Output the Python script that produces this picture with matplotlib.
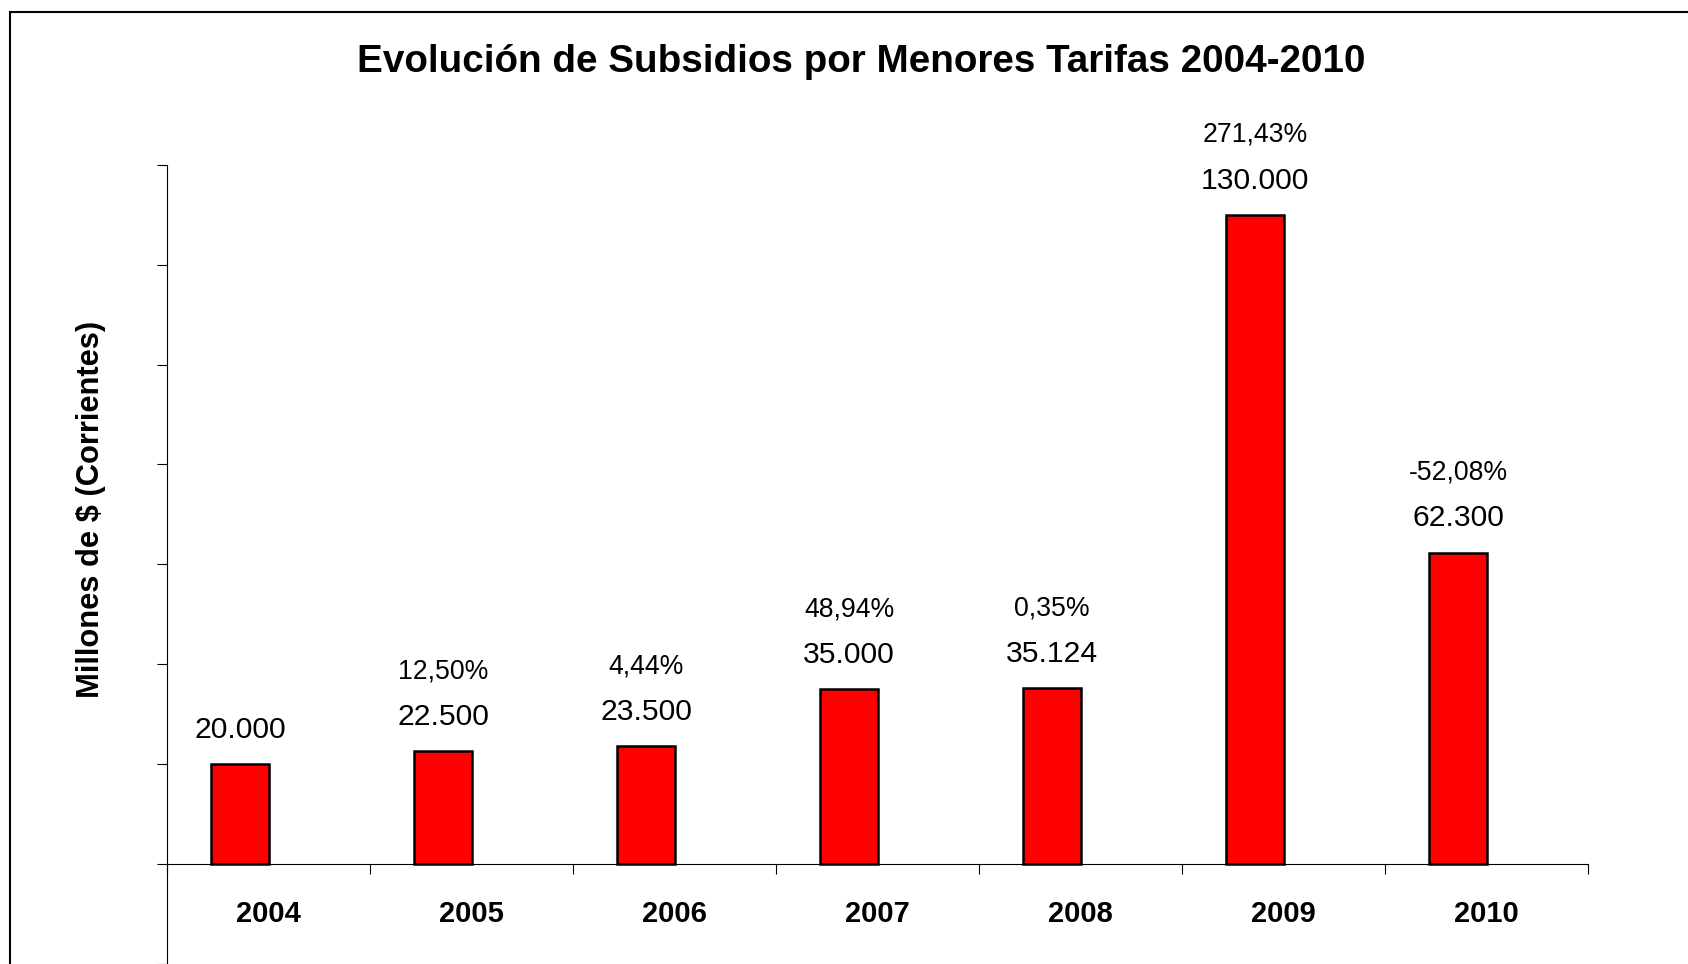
import numpy as np
import matplotlib
matplotlib.use("Agg")
import matplotlib.pyplot as plt
import matplotlib.patches as patches

plt.rcParams['font.family'] = ['Liberation Sans', 'DejaVu Sans']

# datos
anios = ['2004', '2005', '2006', '2007', '2008', '2009', '2010']
subsidios = [20000, 22500, 23500, 35000, 35124, 130000, 62300]
variacion = [None, 12.50, 4.44, 48.94, 0.35, 271.43, -52.08]

W, H = 1688, 964
fig = plt.figure(figsize=(W / 100, H / 100), dpi=100)
ax = fig.add_axes([167 / W, 0.4 / H, (1588 - 167) / W, (963.6 - 165) / H])

x = np.arange(len(anios))
ancho = 0.286
ax.bar(x + 0.5 - 0.14, subsidios, width=ancho, color='#ff0000',
       edgecolor='black', linewidth=1.8, zorder=3)

for i, v in enumerate(subsidios):
    xc = i + 0.5 - 0.14
    txt = f"{v:,}".replace(',', '.')
    ax.annotate(txt, (xc, v), xytext=(0, 19), textcoords='offset points',
                ha='center', va='baseline', fontsize=21.7)
    if variacion[i] is not None:
        p = f"{variacion[i]:.2f}%".replace('.', ',')
        ax.annotate(p, (xc, v), xytext=(0, 52.5), textcoords='offset points',
                    ha='center', va='baseline', fontsize=19.2)

# etiquetas de los anios debajo del eje
for i, a in enumerate(anios):
    ax.annotate(a, (i + 0.5, 0), xytext=(0, -26), textcoords='offset points',
                ha='center', va='top', fontsize=21, fontweight='bold')

ax.set_xlim(0, len(anios))
ax.set_ylim(-20000, 140000)
ax.set_yticks(np.arange(-20000, 140001, 20000))
ax.set_yticklabels([])
ax.set_xticks(np.arange(len(anios) + 1))
ax.set_xticklabels([])
ax.tick_params(axis='both', which='major', direction='out', length=7.2, width=0.8)

ax.spines['bottom'].set_position(('data', 0))
ax.spines['top'].set_visible(False)
ax.spines['right'].set_visible(False)
ax.spines['left'].set_linewidth(0.8)
ax.spines['bottom'].set_linewidth(0.8)

fig.text(861 / W, (H - 71.7) / H, 'Evolución de Subsidios por Menores Tarifas 2004-2010',
         ha='center', va='baseline', fontsize=27.8, fontweight='bold')
fig.text(91 / W, (H - 509) / H, 'Millones de $ (Corrientes)', rotation=90,
         ha='center', va='center', fontsize=22.2, fontweight='bold')

marco = patches.Rectangle((10 / W, -0.5), 2, 0.5 + (H - 11.5) / H,
                          transform=fig.transFigure, fill=False,
                          edgecolor='black', linewidth=1.5, clip_on=False)
fig.patches.append(marco)

fig.savefig('out.png', dpi=100, facecolor='white')
